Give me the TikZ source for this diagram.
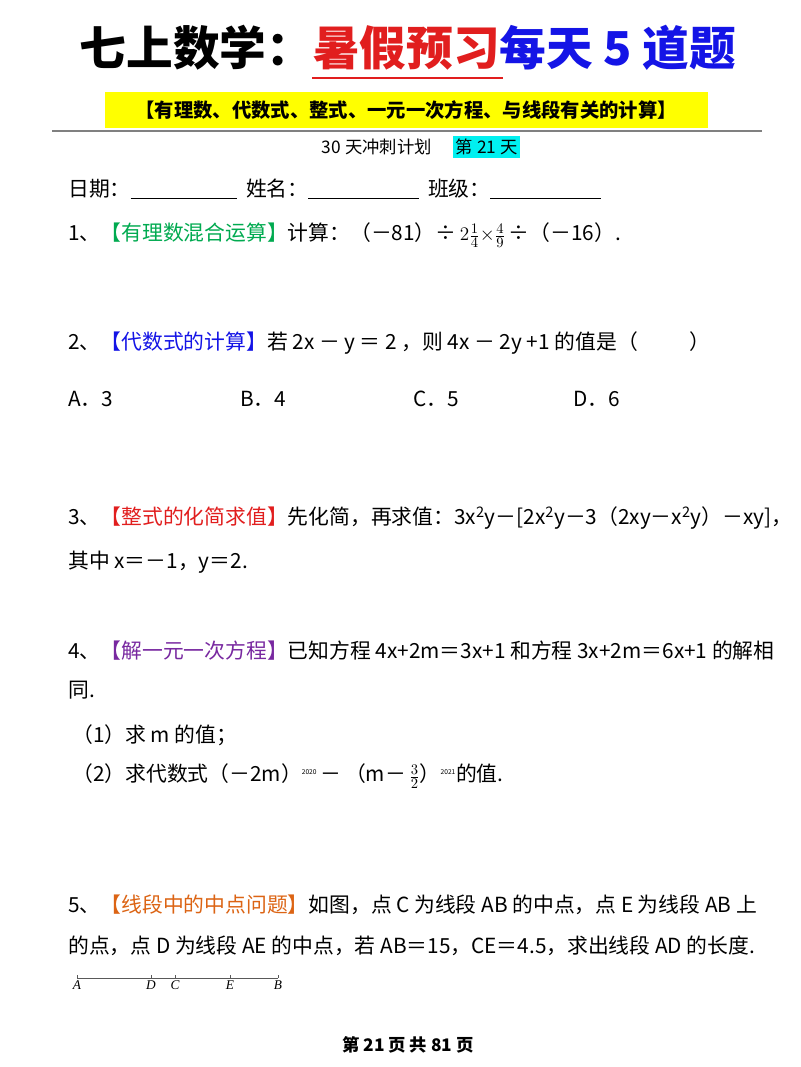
\documentclass[tikz,border=0pt]{standalone}
\usepackage{fontspec}
\setmainfont{Noto Sans CJK SC}
\newfontfamily\serifit{Liberation Serif}
\usetikzlibrary{positioning}
\definecolor{tagGreen}{RGB}{0,170,80}
\definecolor{tagBlue}{RGB}{20,20,230}
\definecolor{tagRed}{RGB}{225,30,30}
\definecolor{tagPurple}{RGB}{120,40,160}
\definecolor{tagOrange}{RGB}{220,100,20}
\definecolor{hlYellow}{RGB}{255,255,0}
\definecolor{hlCyan}{RGB}{0,240,240}
\tikzset{
  qline/.style = {anchor=west, inner sep=0pt, font=\fontsize{15.6}{18}\selectfont},
  ptlabel/.style = {below=2pt, inner sep=0pt, font=\serifit\itshape\fontsize{10}{11}\selectfont},
}
\begin{document}
\begin{tikzpicture}[x=0.75pt,y=-0.75pt]
\useasboundingbox (0,0) rectangle (800,1067);
\fill[white] (0,0) rectangle (800,1067);

% title
\node[inner sep=0pt, font=\bfseries\fontsize{35}{40}\selectfont] (title) at (408,48)
  {七上数学：\textcolor{tagRed}{暑假预习}\textcolor{tagBlue}{每天 5 道题}};
\draw[tagRed, line width=1.5pt] (312,78) -- (503,78);
\node[fill=hlYellow, minimum width=603*0.75pt, minimum height=36*0.75pt, inner sep=0pt,
  font=\bfseries\fontsize{14.5}{16}\selectfont] (topics) at (406,110)
  {【有理数、代数式、整式、一元一次方程、与线段有关的计算】};
\draw[gray, line width=0.8pt] (52,131) -- (762,131);
\node[anchor=east, inner sep=0pt, font=\fontsize{13}{15}\selectfont] (plan) at (432,147) {30 天冲刺计划};
\node[fill=hlCyan, anchor=west, inner sep=2pt, font=\fontsize{13}{15}\selectfont] (day) at (453,147) {第 21 天};

\node[qline] (info) at (68,189) {日期：\underline{\hspace{5.1em}}\ \ 姓名：\underline{\hspace{5.3em}}\ \ 班级：\underline{\hspace{5.3em}}};

% questions
\node[qline] (q1) at (68,235) {1、\textcolor{tagGreen}{【有理数混合运算】}计算：（－81）÷\,$2\frac{1}{4}{\times}\frac{4}{9}$\,÷（－16）.};

\node[qline] (q2) at (68,343) {2、\textcolor{tagBlue}{【代数式的计算】}若 2x － y ＝ 2 ，则 4x － 2y +1 的值是（\hspace{2.5em}）};
\node[qline] (optA) at (68,399) {A．3};
\node[qline] (optB) at (240,399) {B．4};
\node[qline] (optC) at (413,399) {C．5};
\node[qline] (optD) at (573,399) {D．6};

\node[qline] (q3) at (68,518) {3、\textcolor{tagRed}{【整式的化简求值】}先化简，再求值：3x\textsuperscript{2}y－[2x\textsuperscript{2}y－3（2xy－x\textsuperscript{2}y）－xy]，};
\node[qline] (q3b) at (68,562) {其中 x＝－1，y＝2.};

\node[qline] (q4) at (68,651) {4、\textcolor{tagPurple}{【解一元一次方程】}已知方程 4x+2m＝3x+1 和方程 3x+2m＝6x+1 的解相};
\node[qline] (q4b) at (68,690) {同.};
\node[qline] (q4c) at (72,735) {（1）求 m 的值；};
\node[qline] (q4d) at (72,776) {（2）求代数式（－2m）\textsuperscript{\tiny 2020}\,－\,（m－\,$\frac{3}{2}$）\textsuperscript{\tiny 2021}的值.};

\node[qline] (q5) at (68,905) {5、\textcolor{tagOrange}{【线段中的中点问题】}如图，点 C 为线段 AB 的中点，点 E 为线段 AB 上};
\node[qline] (q5b) at (68,946) {的点，点 D 为线段 AE 的中点，若 AB＝15，CE＝4.5，求出线段 AD 的长度.};

% segment figure
\foreach \name/\px in {A/77, D/151, C/175, E/230, B/278} {
  \coordinate (p\name) at (\px,978);
  \draw[gray!70!black, line width=0.5pt] (\px,975) -- (\px,978);
  \node[ptlabel] at (p\name) {\name};
}
\draw[gray!70!black, line width=0.6pt] (pA) -- (pB);

% footer
\node[inner sep=0pt, font=\bfseries\fontsize{13}{15}\selectfont] (footer) at (408,1045) {第\ 21\ 页\ 共\ 81\ 页};
\end{tikzpicture}
\end{document}
